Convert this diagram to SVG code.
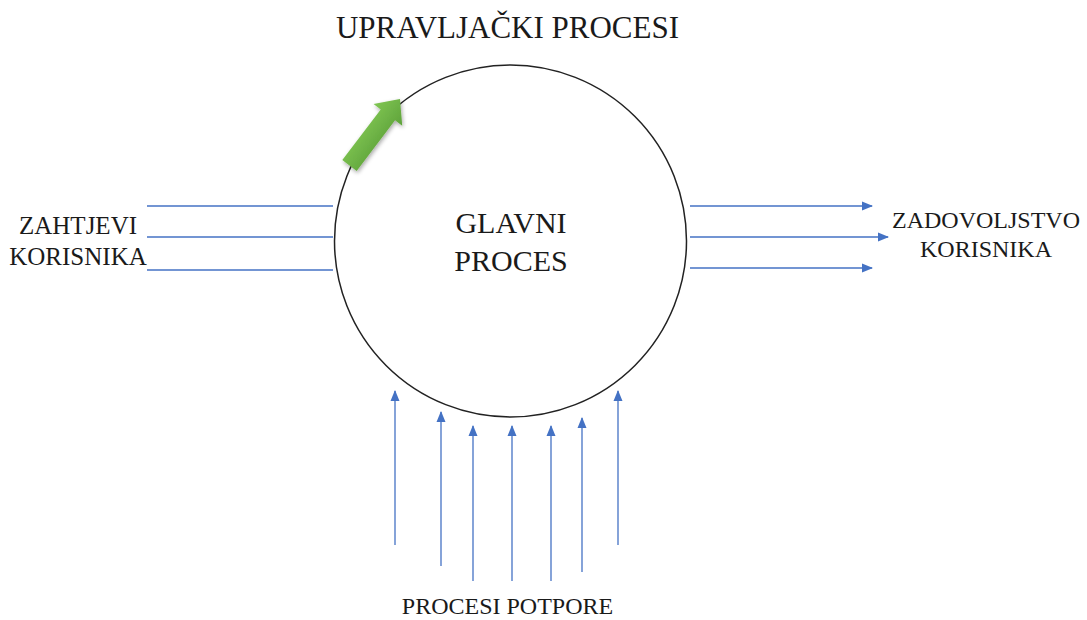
<svg xmlns="http://www.w3.org/2000/svg" width="1087" height="620" viewBox="0 0 1087 620">
<style>
  text { font-family: "Liberation Serif", "Times New Roman", serif; fill: #1a1a1a; text-anchor: middle; }
  .flow { stroke: #4472C4; stroke-width: 1.3; fill: none; }
  .arr { stroke: #4472C4; stroke-width: 1.3; fill: none; marker-end: url(#ah); }
</style>
<defs>
  <marker id="ah" markerWidth="12" markerHeight="10" refX="10" refY="5" orient="auto" markerUnits="userSpaceOnUse">
    <path d="M0,0.5 L11,5 L0,9.5 Z" fill="#4472C4"/>
  </marker>
  <linearGradient id="gr" x1="0" y1="0" x2="0" y2="1">
    <stop offset="0" stop-color="#80c653"/>
    <stop offset="1" stop-color="#5ea23a"/>
  </linearGradient>
  <filter id="sh" x="-30%" y="-30%" width="160%" height="160%">
    <feGaussianBlur in="SourceAlpha" stdDeviation="2"/>
    <feOffset dx="1" dy="2"/>
    <feComponentTransfer><feFuncA type="linear" slope="0.35"/></feComponentTransfer>
    <feMerge><feMergeNode/><feMergeNode in="SourceGraphic"/></feMerge>
  </filter>
</defs>
<rect width="1087" height="620" fill="#ffffff"/>

<g id="title"><text x="507.5" y="38" font-size="31">UPRAVLJAČKI PROCESI</text></g>

<g id="main-process">
  <circle cx="510.5" cy="241" r="176" fill="#ffffff" stroke="#222222" stroke-width="1.5"/>
  <text x="511" y="233" font-size="30">GLAVNI</text>
  <text x="511" y="271" font-size="30">PROCES</text>
</g>

<g id="control-arrow" filter="url(#sh)">
  <polygon transform="translate(349.5,165.5) rotate(-52.8)" points="0,-9 63.5,-9 63.5,-18 83.5,0 63.5,18 63.5,9 0,9" fill="url(#gr)"/>
</g>

<g id="input-label">
  <text x="78" y="234" font-size="25">ZAHTJEVI</text>
  <text x="78" y="265" font-size="25">KORISNIKA</text>
</g>

<g id="output-label">
  <text x="986" y="228" font-size="24">ZADOVOLJSTVO</text>
  <text x="986" y="257" font-size="24">KORISNIKA</text>
</g>

<g id="support-label"><text x="507.5" y="614" font-size="24">PROCESI POTPORE</text></g>

<g id="connectors">
  <line class="flow" x1="147" y1="206" x2="333" y2="206"/>
  <line class="flow" x1="147" y1="237" x2="333" y2="237"/>
  <line class="flow" x1="147" y1="270" x2="333" y2="270"/>

  <line class="arr" x1="690" y1="206" x2="872" y2="206"/>
  <line class="arr" x1="690" y1="237" x2="888" y2="237"/>
  <line class="arr" x1="690" y1="268" x2="872" y2="268"/>

  <line class="arr" x1="395" y1="545" x2="395" y2="391"/>
  <line class="arr" x1="441" y1="566" x2="441" y2="412"/>
  <line class="arr" x1="473" y1="581" x2="473" y2="426"/>
  <line class="arr" x1="512" y1="581" x2="512" y2="426"/>
  <line class="arr" x1="551" y1="581" x2="551" y2="426"/>
  <line class="arr" x1="582" y1="572" x2="582" y2="418"/>
  <line class="arr" x1="618" y1="545" x2="618" y2="391"/>
</g>
</svg>
